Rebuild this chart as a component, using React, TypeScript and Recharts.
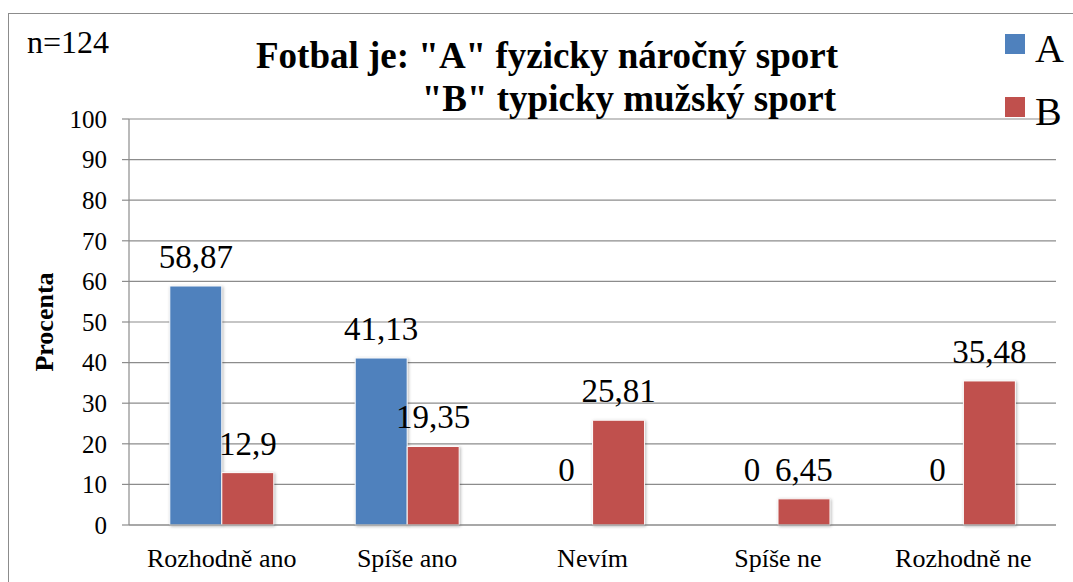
import { BarChart, Bar, XAxis, YAxis, CartesianGrid, Legend, LabelList, Cell } from 'recharts'

const categories = ['Rozhodně ano', 'Spíše ano', 'Nevím', 'Spíše ne', 'Rozhodně ne']
const seriesA = [58.87, 41.13, 0, 0, 0]
const seriesB = [12.9, 19.35, 25.81, 6.45, 35.48]
const yTicks = [0, 10, 20, 30, 40, 50, 60, 70, 80, 90, 100]

const data = categories.map((name, i) => ({ name, A: seriesA[i], B: seriesB[i] }))

const SERIF = '"Liberation Serif", "Times New Roman", serif'
const COLORS = { A: '#4F81BD', B: '#C0504D', grid: '#8C8C8C' }
const SHADOW = { filter: 'drop-shadow(1px 1px 1.5px rgba(0,0,0,0.28))' }

function ValueLabel(props: any) {
  const { x, y, width, value } = props
  const baseline = Number(value) === 0 ? y - 44 : y - 18
  return (
    <text x={x + width / 2} y={baseline} textAnchor="middle" fontFamily={SERIF} fontSize={33} fill="#000">
      {String(value).replace('.', ',')}
    </text>
  )
}

function YTitle(props: any) {
  const vb = props.viewBox
  const cx = 44
  const cy = vb.y + vb.height / 2
  return (
    <text x={cx} y={cy} transform={`rotate(-90 ${cx} ${cy})`} textAnchor="middle" dominantBaseline="central"
      fontFamily={SERIF} fontWeight="bold" fontSize={26} fill="#000">
      Procenta
    </text>
  )
}

function LegendBox({ payload }: any) {
  return (
    <div>
      {(payload || []).map((p: any) => (
        <div key={p.value} style={{ display: 'flex', alignItems: 'flex-start', height: 63 }}>
          <div style={{ width: 20, height: 20, background: p.color }} />
          <span style={{ fontFamily: SERIF, fontSize: 40, lineHeight: '40px', marginLeft: 10, marginTop: -5, color: '#000' }}>
            {p.value}
          </span>
        </div>
      ))}
    </div>
  )
}

// zero bars get a hair of height so their "0" label is still drawn
const zeroSize = (v: any) => (Number(v) === 0 ? 0.01 : 0)

export default function App() {
  return (
    <div style={{ position: 'absolute', left: 0, top: 0, width: 1073, height: 582, background: '#fff', overflow: 'hidden' }}>
      <div style={{ position: 'absolute', left: 8, top: 13, right: -2, bottom: -2, border: '1.5px solid #8C8C8C' }} />
      <BarChart width={1073} height={582} data={data} margin={{ top: 119, right: 17, bottom: 0, left: 0 }}
        barCategoryGap="22%" barGap={0}>
        <CartesianGrid vertical={false} stroke={COLORS.grid} strokeWidth={1.2} />
        <XAxis dataKey="name" height={57} tickLine={false} tickMargin={18} axisLine={{ stroke: COLORS.grid, strokeWidth: 1.2 }}
          tick={{ fontFamily: SERIF, fontSize: 26, fill: '#000' }} interval={0} />
        <YAxis width={129} domain={[0, 100]} ticks={yTicks} tickSize={7} tickMargin={15} interval={0}
          axisLine={{ stroke: COLORS.grid, strokeWidth: 1.2 }} tickLine={{ stroke: COLORS.grid, strokeWidth: 1.2 }}
          tick={{ fontFamily: SERIF, fontSize: 25, fill: '#000' }} label={<YTitle />} />
        <Legend layout="vertical" align="center" verticalAlign="middle" content={<LegendBox />}
          wrapperStyle={{ position: 'absolute', left: 1005, top: 34, width: 70 }} />
        <Bar dataKey="A" name="A" fill={COLORS.A} isAnimationActive={false} minPointSize={zeroSize}>
          {seriesA.map((v, i) => (
            <Cell key={i} stroke={v === 0 ? 'none' : '#fff'} strokeWidth={1} style={v === 0 ? undefined : SHADOW} />
          ))}
          <LabelList dataKey="A" content={<ValueLabel />} />
        </Bar>
        <Bar dataKey="B" name="B" fill={COLORS.B} stroke="#fff" strokeWidth={1} isAnimationActive={false}>
          {seriesB.map((v, i) => (
            <Cell key={i} style={SHADOW} />
          ))}
          <LabelList dataKey="B" content={<ValueLabel />} />
        </Bar>
      </BarChart>
      <svg width={1073} height={582} style={{ position: 'absolute', left: 0, top: 0, pointerEvents: 'none' }}>
        <text x={27} y={53} fontFamily={SERIF} fontSize={32} fill="#000">n=124</text>
        <text x={838} y={68} textAnchor="end" fontFamily={SERIF} fontWeight="bold" fontSize={37} fill="#000">
          Fotbal je: "A" fyzicky náročný sport
        </text>
        <text x={836} y={111} textAnchor="end" fontFamily={SERIF} fontWeight="bold" fontSize={37} fill="#000">
          "B" typicky mužský sport
        </text>
      </svg>
    </div>
  )
}
